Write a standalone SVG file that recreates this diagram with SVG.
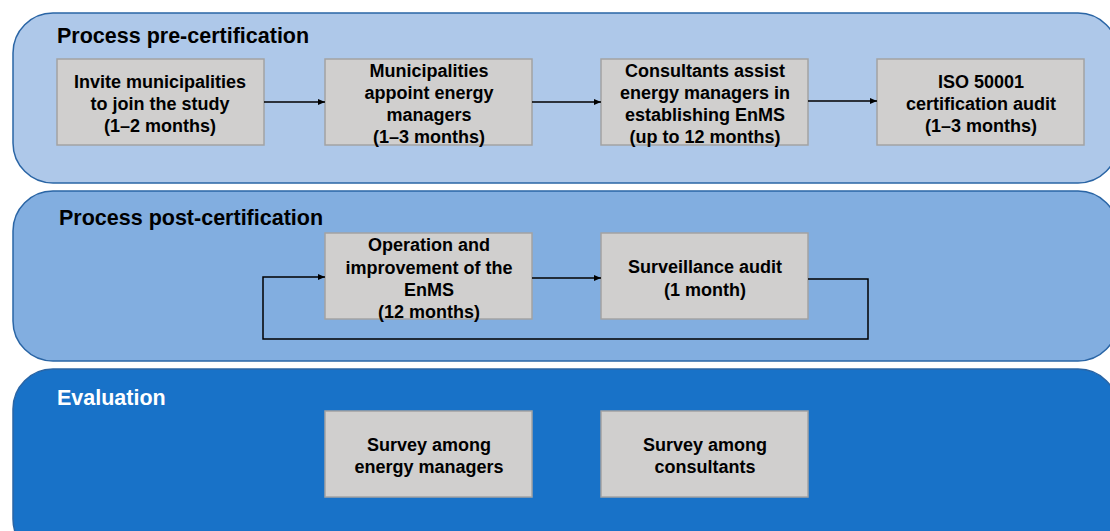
<svg xmlns="http://www.w3.org/2000/svg" width="1110" height="531" viewBox="0 0 1110 531">
<defs>
<marker id="ah" markerWidth="8" markerHeight="8" refX="7" refY="4" orient="auto" markerUnits="userSpaceOnUse"><path d="M0,1 L7,4 L0,7 Z" fill="#000"/></marker>
<style>
.panel{stroke:#2a65a5;stroke-width:1.5}
.box{fill:#d0cfce;stroke:#a3a3a3;stroke-width:1.5}
.t{font-family:"Liberation Sans",Arial,sans-serif;font-weight:bold;font-size:18px;fill:#000;text-anchor:middle}
.h{font-family:"Liberation Sans",Arial,sans-serif;font-weight:bold;font-size:21.5px}
.c{fill:none;stroke:#000;stroke-width:1.5}
</style>
</defs>
<rect width="1110" height="531" fill="#fff"/>
<g id="panel-pre">
<rect class="panel" x="13" y="13" width="1105" height="170" rx="40" fill="#aec8e9"/>
<text class="h" x="57" y="43" fill="#000">Process pre-certification</text>
</g>
<g id="panel-post">
<rect class="panel" x="13" y="191" width="1105" height="170" rx="40" fill="#82aee0"/>
<text class="h" x="59" y="225" fill="#000">Process post-certification</text>
</g>
<g id="panel-eval">
<rect class="panel" x="13" y="369" width="1105" height="190" rx="40" fill="#1872c8"/>
<text class="h" x="57" y="405" fill="#fff">Evaluation</text>
</g>
<g id="n1"><rect class="box" x="57" y="59" width="207" height="86"/>
<text class="t"><tspan x="160" y="88">Invite municipalities</tspan><tspan x="160" y="110">to join the study</tspan><tspan x="160" y="132">(1–2 months)</tspan></text></g>
<g id="n2"><rect class="box" x="325" y="59" width="207" height="86"/>
<text class="t"><tspan x="429" y="77">Municipalities</tspan><tspan x="429" y="99">appoint energy</tspan><tspan x="429" y="121">managers</tspan><tspan x="429" y="143">(1–3 months)</tspan></text></g>
<g id="n3"><rect class="box" x="601" y="59" width="207" height="86"/>
<text class="t"><tspan x="705" y="77">Consultants assist</tspan><tspan x="705" y="99">energy managers in</tspan><tspan x="705" y="121">establishing EnMS</tspan><tspan x="705" y="143">(up to 12 months)</tspan></text></g>
<g id="n4"><rect class="box" x="877" y="59" width="207" height="86"/>
<text class="t"><tspan x="981" y="88">ISO 50001</tspan><tspan x="981" y="110">certification audit</tspan><tspan x="981" y="132">(1–3 months)</tspan></text></g>
<g id="n5"><rect class="box" x="325" y="233" width="207" height="86"/>
<text class="t"><tspan x="429" y="251">Operation and</tspan><tspan x="429" y="274">improvement of the</tspan><tspan x="429" y="296">EnMS</tspan><tspan x="429" y="318">(12 months)</tspan></text></g>
<g id="n6"><rect class="box" x="601" y="233" width="207" height="86"/>
<text class="t"><tspan x="705" y="273">Surveillance audit</tspan><tspan x="705" y="296">(1 month)</tspan></text></g>
<g id="n7"><rect class="box" x="325" y="411" width="207" height="86"/>
<text class="t"><tspan x="429" y="451">Survey among</tspan><tspan x="429" y="473">energy managers</tspan></text></g>
<g id="n8"><rect class="box" x="601" y="411" width="207" height="86"/>
<text class="t"><tspan x="705" y="451">Survey among</tspan><tspan x="705" y="473">consultants</tspan></text></g>
<g id="connectors">
<line class="c" x1="264" y1="102" x2="325" y2="102" marker-end="url(#ah)"/>
<line class="c" x1="532" y1="102" x2="601" y2="102" marker-end="url(#ah)"/>
<line class="c" x1="808" y1="101" x2="877" y2="101" marker-end="url(#ah)"/>
<line class="c" x1="532" y1="278" x2="601" y2="278" marker-end="url(#ah)"/>
<polyline class="c" points="808,279 868,279 868,339 263,339 263,277 325,277" marker-end="url(#ah)"/>
</g>
</svg>
